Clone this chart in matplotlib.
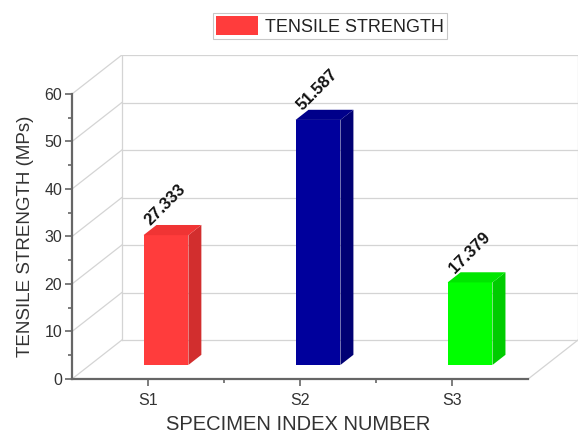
import matplotlib
matplotlib.use("Agg")
import matplotlib.pyplot as plt
from matplotlib.patches import Polygon, Patch
from matplotlib.ticker import FixedLocator

plt.rcParams['font.family'] = ['Liberation Sans', 'DejaVu Sans']

# data
categories = ["S1", "S2", "S3"]
strength = [27.333, 51.587, 17.379]
front_colors = ["#ff3c3c", "#00009c", "#00ff00"]
side_colors = ["#d22e2e", "#000074", "#00cc00"]
top_colors = ["#f03434", "#00008a", "#00e600"]
value_labels = ["27.333", "51.587", "17.379"]

# oblique depth of the plot box, in data units
DX, DY = 0.328, 8.21
# bar depth placement (fractions of the box depth)
F_FRONT, F_BACK = 0.36, 0.62
BAR_W = 0.295
YMAX = 60

fig = plt.figure(figsize=(5.8, 4.37), dpi=100)
W, H = 580, 437
left, right, bottom, top = 72, 578, 379, 55
ax = fig.add_axes([left / W, 1 - bottom / H, (right - left) / W, (bottom - top) / H])
ax.set_xlim(0.5, 3.5 + DX)
ax.set_ylim(0, YMAX + DY)
ax.patch.set_alpha(0)

grid_c = "#d4d4d4"
lw_g = 0.9
# back wall, side wall and floor lines
x0b, x1b = 0.5 + DX, 3.5 + DX
for yv in range(0, YMAX + 1, 10):
    ax.plot([x0b, x1b], [yv + DY, yv + DY], color=grid_c, lw=lw_g, zorder=1)
    ax.plot([0.5, x0b], [yv, yv + DY], color=grid_c, lw=lw_g, zorder=1)
ax.plot([x0b, x0b], [DY, YMAX + DY], color=grid_c, lw=lw_g, zorder=1)
ax.plot([x1b, x1b], [DY, YMAX + DY], color=grid_c, lw=lw_g, zorder=1)
ax.plot([3.5, x1b], [0, DY], color=grid_c, lw=lw_g, zorder=1)

# bars: front faces via bar(), side and top faces from the same values
xs = [i + 1 for i in range(len(categories))]
fx, fy = F_FRONT * DX, F_FRONT * DY
bx, by = F_BACK * DX, F_BACK * DY
ax.bar([x + fx for x in xs], strength, width=BAR_W, bottom=fy,
       color=front_colors, edgecolor="none", zorder=3)
for x, v, sc, tc, lab in zip(xs, strength, side_colors, top_colors, value_labels):
    xl, xr = x - BAR_W / 2, x + BAR_W / 2
    side = Polygon([(xr + fx, fy), (xr + bx, by), (xr + bx, v + by), (xr + fx, v + fy)],
                   closed=True, facecolor=sc, edgecolor="none", zorder=3)
    topf = Polygon([(xl + fx, v + fy), (xl + bx, v + by), (xr + bx, v + by), (xr + fx, v + fy)],
                   closed=True, facecolor=tc, edgecolor="none", zorder=3)
    ax.add_patch(side)
    ax.add_patch(topf)
    ax.text(xl + fx + 0.06, v + fy + 1.4, lab, rotation=45, rotation_mode="anchor",
            ha="left", va="bottom", fontsize=12, fontweight="bold", color="#111111", zorder=4)

# axes styling
axis_c = "#666666"
for s in ["top", "right"]:
    ax.spines[s].set_visible(False)
ax.spines["left"].set_bounds(0, YMAX)
ax.spines["bottom"].set_bounds(0.5, 3.5)
for s in ["left", "bottom"]:
    ax.spines[s].set_color(axis_c)
    ax.spines[s].set_linewidth(1.6)
ax.yaxis.set_major_locator(FixedLocator(range(0, YMAX + 1, 10)))
ax.yaxis.set_minor_locator(FixedLocator(range(5, YMAX, 10)))
ax.xaxis.set_major_locator(FixedLocator(xs))
ax.xaxis.set_minor_locator(FixedLocator([1.5, 2.5]))
ax.set_xticklabels(categories)
ax.tick_params(axis="both", which="major", direction="out", length=5, width=1.2,
               color=axis_c, labelsize=11.5, labelcolor="#333333")
ax.tick_params(axis="both", which="minor", direction="out", length=3, width=1.2, color=axis_c)
ax.tick_params(axis="x", pad=5)
ax.tick_params(axis="y", pad=2)

fig.text(26 / W, 1 - 236 / H, "TENSILE STRENGTH (MPs)", rotation=90, ha="center", va="center",
         fontsize=13.5, color="#333333")
fig.text(298 / W, 1 - 425 / H, "SPECIMEN INDEX NUMBER", ha="center", va="center",
         fontsize=14.5, color="#333333")

leg = fig.legend(handles=[Patch(facecolor=front_colors[0], edgecolor="none")],
                 labels=["TENSILE STRENGTH"], loc="center", bbox_to_anchor=(330 / W, 1 - 26 / H),
                 fontsize=13, frameon=True, fancybox=False, handlelength=2.3, handleheight=1.2,
                 handletextpad=0.4, borderpad=0.2)
leg.get_frame().set_edgecolor("#bbbbbb")
leg.get_frame().set_linewidth(0.8)
for t in leg.get_texts():
    t.set_color("#222222")

fig.savefig("out.png", dpi=100)
